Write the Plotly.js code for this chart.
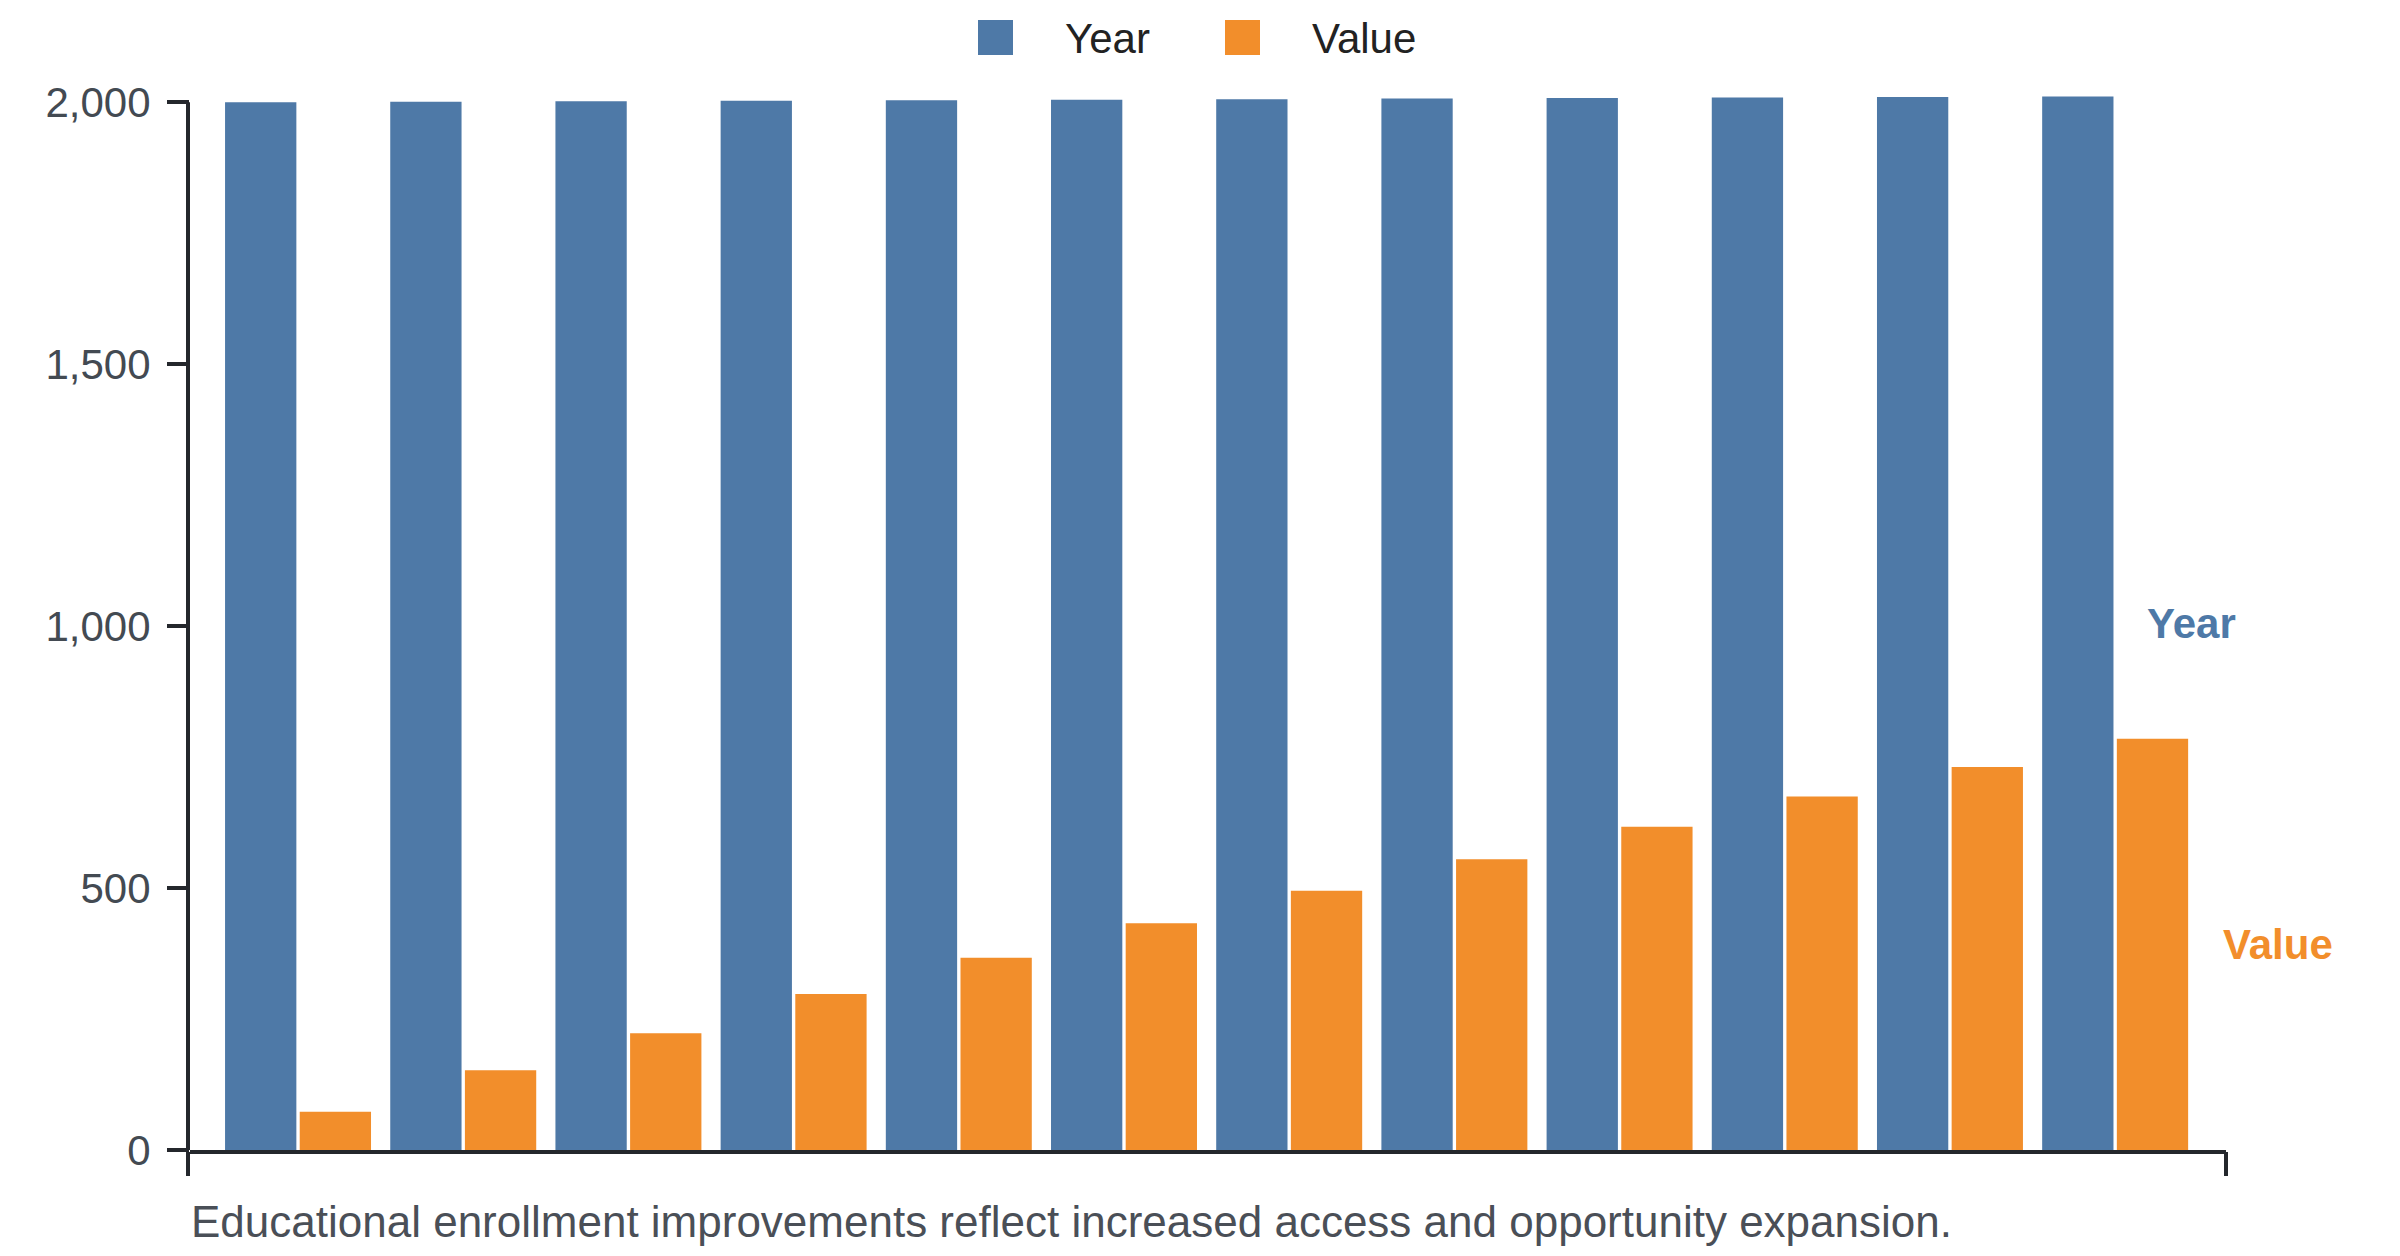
<!DOCTYPE html>
<html>
<head>
<meta charset="utf-8">
<script src="https://cdn.plot.ly/plotly-3.1.0.min.js"></script>
<style>
	html, body { margin: 0; padding: 0; background: #fff; }
	#chart { width: 2400px; height: 1256px; }
</style>
</head>
<body>
<div id="chart"></div>
<script>
// data
const categories = ['2000', '2001', '2002', '2003', '2004', '2005', '2006', '2007', '2008', '2009', '2010', '2011']
const years = [2000, 2001, 2002, 2003, 2004, 2005, 2006, 2007, 2008, 2009, 2010, 2011]
const values = [73, 152, 223, 298, 367, 433, 495, 555, 617, 675, 731, 785]
const seriesNames = ['Year', 'Value']
const yTicks = [0, 500, 1000, 1500, 2000]
const caption = 'Educational enrollment improvements reflect increased access and opportunity expansion.'

const BLUE = '#4e79a7'
const ORANGE = '#f28e2b'
const AXIS = '#24272c'
const FONT = '"Liberation Sans", Arial, Helvetica, sans-serif'

// the y scale tops out at 2000 but the year bars poke a little above it,
// so the range runs slightly higher and the axis line is drawn only up to 2000
const Y_TOP = 2000
const Y_RANGE_TOP = 2012
const PX_PER_UNIT = 0.52375

// plot box in pixels, used to place the legend and caption
const W = 2400, H = 1256
const BASE = 1150
const M = { l: 190, r: 174, t: Math.round(BASE - Y_RANGE_TOP * PX_PER_UNIT), b: H - BASE }
const plotW = W - M.l - M.r
const plotH = H - M.t - M.b
const px = x => (x - M.l) / plotW
const py = y => (H - M.b - y) / plotH

const last = categories.length - 1

const traces = [
	{
		type: 'bar', name: seriesNames[0], x: categories, y: years,
		marker: { color: BLUE, line: { width: 0 } },
		hoverinfo: 'x+y', showlegend: false,
	},
	{
		type: 'bar', name: seriesNames[1], x: categories, y: values,
		marker: { color: ORANGE, line: { width: 0 } },
		hoverinfo: 'x+y', showlegend: false,
	},
]

// hand-made legend (bar legend swatches in plotly don't scale)
const legendItems = [
	{ name: seriesNames[0], color: BLUE, sw: 978, tx: 1063 },
	{ name: seriesNames[1], color: ORANGE, sw: 1225, tx: 1310 },
]

const shapes = [
	// y axis line: from below the baseline up to the top tick
	{ type: 'line', xref: 'paper', yref: 'y', x0: px(188), x1: px(188), y0: 0, y1: Y_TOP,
		line: { color: AXIS, width: 4 } },
	{ type: 'line', xref: 'paper', yref: 'paper', x0: px(188), x1: px(188), y0: py(1152), y1: py(1176),
		line: { color: AXIS, width: 4 } },
	// end tick of the x axis
	{ type: 'line', xref: 'paper', yref: 'paper', x0: px(2226), x1: px(2226), y0: py(1152), y1: py(1176),
		line: { color: AXIS, width: 4 } },
	...legendItems.map(it => ({
		type: 'rect', xref: 'paper', yref: 'paper',
		x0: px(it.sw), x1: px(it.sw + 35), y0: py(20), y1: py(55),
		fillcolor: it.color, line: { width: 0 },
	})),
]

const annotations = [
	...legendItems.map(it => ({
		xref: 'paper', yref: 'paper', x: px(it.tx), y: py(38),
		xanchor: 'left', yanchor: 'middle', showarrow: false,
		text: it.name, font: { family: FONT, size: 42, color: '#222' },
	})),
	// series labels beside the last group, at half the bar height
	{
		xref: 'x', yref: 'y', x: last, y: years[last] / 2,
		xanchor: 'left', yanchor: 'middle', xshift: 30, showarrow: false,
		text: '<b>' + seriesNames[0] + '</b>', font: { family: FONT, size: 42, color: BLUE },
	},
	{
		xref: 'x', yref: 'y', x: last, y: values[last] / 2,
		xanchor: 'left', yanchor: 'middle', xshift: 106, showarrow: false,
		text: '<b>' + seriesNames[1] + '</b>', font: { family: FONT, size: 42, color: ORANGE },
	},
	{
		xref: 'paper', yref: 'paper', x: px(189), y: py(1221),
		xanchor: 'left', yanchor: 'middle', showarrow: false,
		text: caption, font: { family: FONT, size: 44, color: '#4a4f57' },
	},
]

const layout = {
	width: W, height: H,
	margin: M,
	paper_bgcolor: '#fff', plot_bgcolor: '#fff',
	font: { family: FONT, size: 42, color: '#434a52' },
	barmode: 'group', bargap: 0.096, bargroupgap: 0.045,
	showlegend: false,
	xaxis: {
		type: 'category',
		range: [-0.654, last + 0.671],
		showticklabels: false, ticks: '',
		showline: true, linecolor: AXIS, linewidth: 4,
		showgrid: false, zeroline: false,
	},
	yaxis: {
		range: [0, Y_RANGE_TOP],
		tickvals: yTicks, tickformat: ',',
		ticks: 'outside', ticklen: 22, tickwidth: 4, tickcolor: AXIS,
		ticklabelstandoff: 8,
		tickfont: { family: FONT, size: 42, color: '#434a52' },
		showline: false,
		showgrid: false, zeroline: false,
	},
	shapes,
	annotations,
}

Plotly.newPlot('chart', traces, layout, { displayModeBar: false, staticPlot: true })
</script>
</body>
</html>
